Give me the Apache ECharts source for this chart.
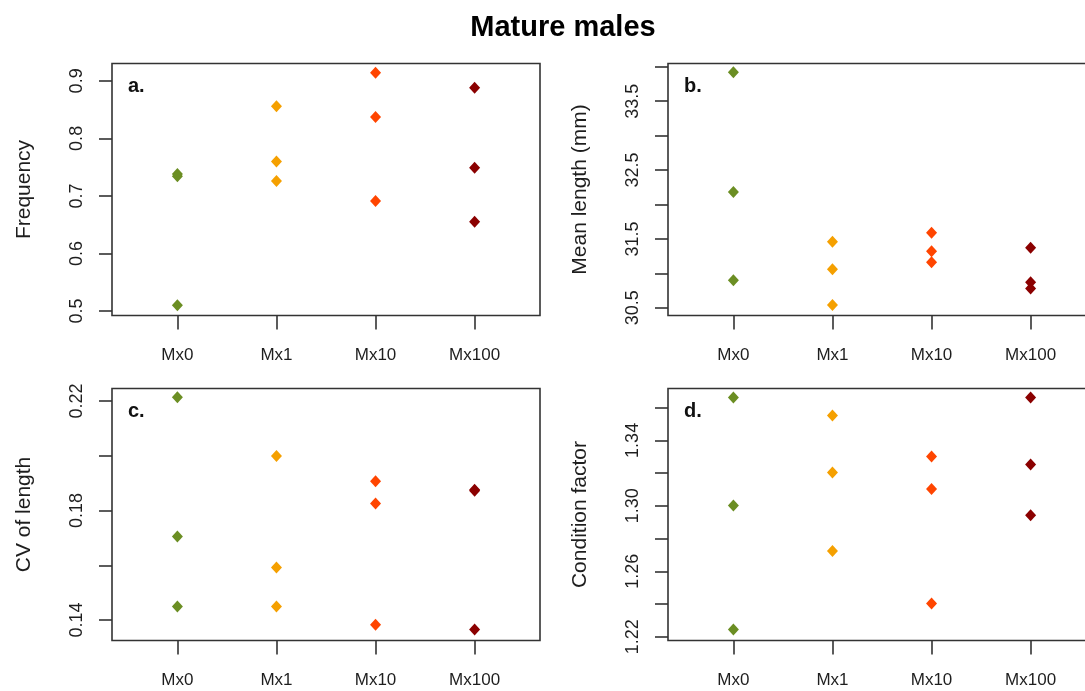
<!DOCTYPE html>
<html>
<head>
<meta charset="utf-8">
<script src="https://cdn.jsdelivr.net/npm/echarts@6/dist/echarts.min.js"></script>
<style>
html,body{margin:0;padding:0;background:#fff;}
#chart{width:1085px;height:691px;}
</style>
</head>
<body>
<div id="chart"></div>
<script>
// ---- data ----
const categories = ['Mx0', 'Mx1', 'Mx10', 'Mx100'];
const chartTitle = 'Mature males';
const panelLabels = ['a.', 'b.', 'c.', 'd.'];
const axisTitles = ['Frequency', 'Mean length (mm)', 'CV of length', 'Condition factor'];

// values per category (Mx0, Mx1, Mx10, Mx100)
const frequency = [
  [0.738, 0.734, 0.510],
  [0.856, 0.760, 0.726],
  [0.914, 0.837, 0.691],
  [0.888, 0.749, 0.655]
];
const meanLength = [
  [33.92, 32.18, 30.90],
  [31.46, 31.06, 30.54],
  [31.59, 31.32, 31.16],
  [31.37, 30.87, 30.78]
];
const cvLength = [
  [0.2214, 0.1705, 0.1449],
  [0.1999, 0.1592, 0.1449],
  [0.1907, 0.1826, 0.1383],
  [0.1876, 0.1872, 0.1365]
];
const conditionFactor = [
  [1.3662, 1.3002, 1.2244],
  [1.3552, 1.3203, 1.2724],
  [1.3302, 1.3103, 1.2403],
  [1.3662, 1.3252, 1.2943]
];

// tick values
const freqTicks = [0.5, 0.6, 0.7, 0.8, 0.9];
const freqLabels = [0.5, 0.6, 0.7, 0.8, 0.9];
const lenTicks = [30.5, 31, 31.5, 32, 32.5, 33, 33.5, 34];
const lenLabels = [30.5, 31.5, 32.5, 33.5];
const cvTicks = [0.14, 0.16, 0.18, 0.20, 0.22];
const cvLabels = [0.14, 0.18, 0.22];
const cfTicks = [1.22, 1.24, 1.26, 1.28, 1.30, 1.32, 1.34, 1.36];
const cfLabels = [1.22, 1.26, 1.30, 1.34];

// ---- styling / layout ----
const colors = ['#6B8E23', '#F5A000', '#FF4500', '#8B0000'];
const FONT = "'Liberation Sans', Arial, sans-serif";
const TEXT = '#1e1e1e';
const LINE = '#333333';

const panels = [
  {values: frequency, ticks: freqTicks, labels: freqLabels, min: 0.4920, max: 0.9302, dec: 1, left: 112, top: 63.5},
  {values: meanLength, ticks: lenTicks, labels: lenLabels, min: 30.388, max: 34.047, dec: 1, left: 668, top: 63.5},
  {values: cvLength, ticks: cvTicks, labels: cvLabels, min: 0.1325, max: 0.2246, dec: 2, left: 112, top: 388.5},
  {values: conditionFactor, ticks: cfTicks, labels: cfLabels, min: 1.2177, max: 1.3717, dec: 2, left: 668, top: 388.5}
];
const GW = 428, GH = 252;
const catPos = categories.map((c, i) => i + 1);

const grids = [], xAxes = [], yAxes = [], series = [], graphics = [];

panels.forEach((p, k) => {
  grids.push({
    left: p.left, top: p.top, width: GW, height: GH,
    outerBoundsMode: 'none', containLabel: false,
    show: true, borderColor: LINE, borderWidth: 1.6, backgroundColor: 'transparent'
  });
  xAxes.push({
    type: 'value', gridIndex: k, min: 0.34, max: 4.66,
    axisLine: {show: false},
    splitLine: {show: false},
    axisTick: {show: true, customValues: catPos, length: 14, inside: false, lineStyle: {color: LINE, width: 1.6}},
    axisLabel: {
      show: true, customValues: catPos, margin: 31,
      color: TEXT, fontFamily: FONT, fontSize: 17,
      formatter: v => categories[Math.round(v) - 1] || ''
    }
  });
  yAxes.push({
    type: 'value', gridIndex: k, min: p.min, max: p.max,
    name: axisTitles[k], nameLocation: 'middle', nameRotate: 90, nameGap: 77,
    nameTextStyle: {color: TEXT, fontFamily: FONT, fontSize: 21},
    axisLine: {show: false},
    splitLine: {show: false},
    axisTick: {show: true, customValues: p.ticks, length: 13, inside: false, lineStyle: {color: LINE, width: 1.6}},
    axisLabel: {
      show: true, customValues: p.labels, rotate: 90, margin: 26,
      color: TEXT, fontFamily: FONT, fontSize: 18,
      formatter: v => Number(v).toFixed(p.dec)
    }
  });
  p.values.forEach((vals, i) => {
    series.push({
      type: 'scatter', xAxisIndex: k, yAxisIndex: k,
      symbol: 'diamond', symbolSize: [11, 12],
      itemStyle: {color: colors[i], opacity: 1},
      emphasis: {disabled: true},
      data: vals.map(v => [i + 1, v])
    });
  });
  graphics.push({
    type: 'text', left: p.left + 16, top: p.top + 13,
    style: {text: panelLabels[k], font: "bold 20px 'Liberation Sans', Arial, sans-serif", fill: '#111'}
  });
});

graphics.push({
  type: 'text', x: 563, y: 28,
  style: {text: chartTitle, font: "bold 29px 'Liberation Sans', Arial, sans-serif", fill: '#000',
          textAlign: 'center', textVerticalAlign: 'middle'}
});

const chart = echarts.init(document.getElementById('chart'), null, {renderer: 'canvas'});
chart.setOption({
  animation: false,
  backgroundColor: '#ffffff',
  grid: grids,
  xAxis: xAxes,
  yAxis: yAxes,
  series: series,
  graphic: graphics
});
</script>
</body>
</html>
